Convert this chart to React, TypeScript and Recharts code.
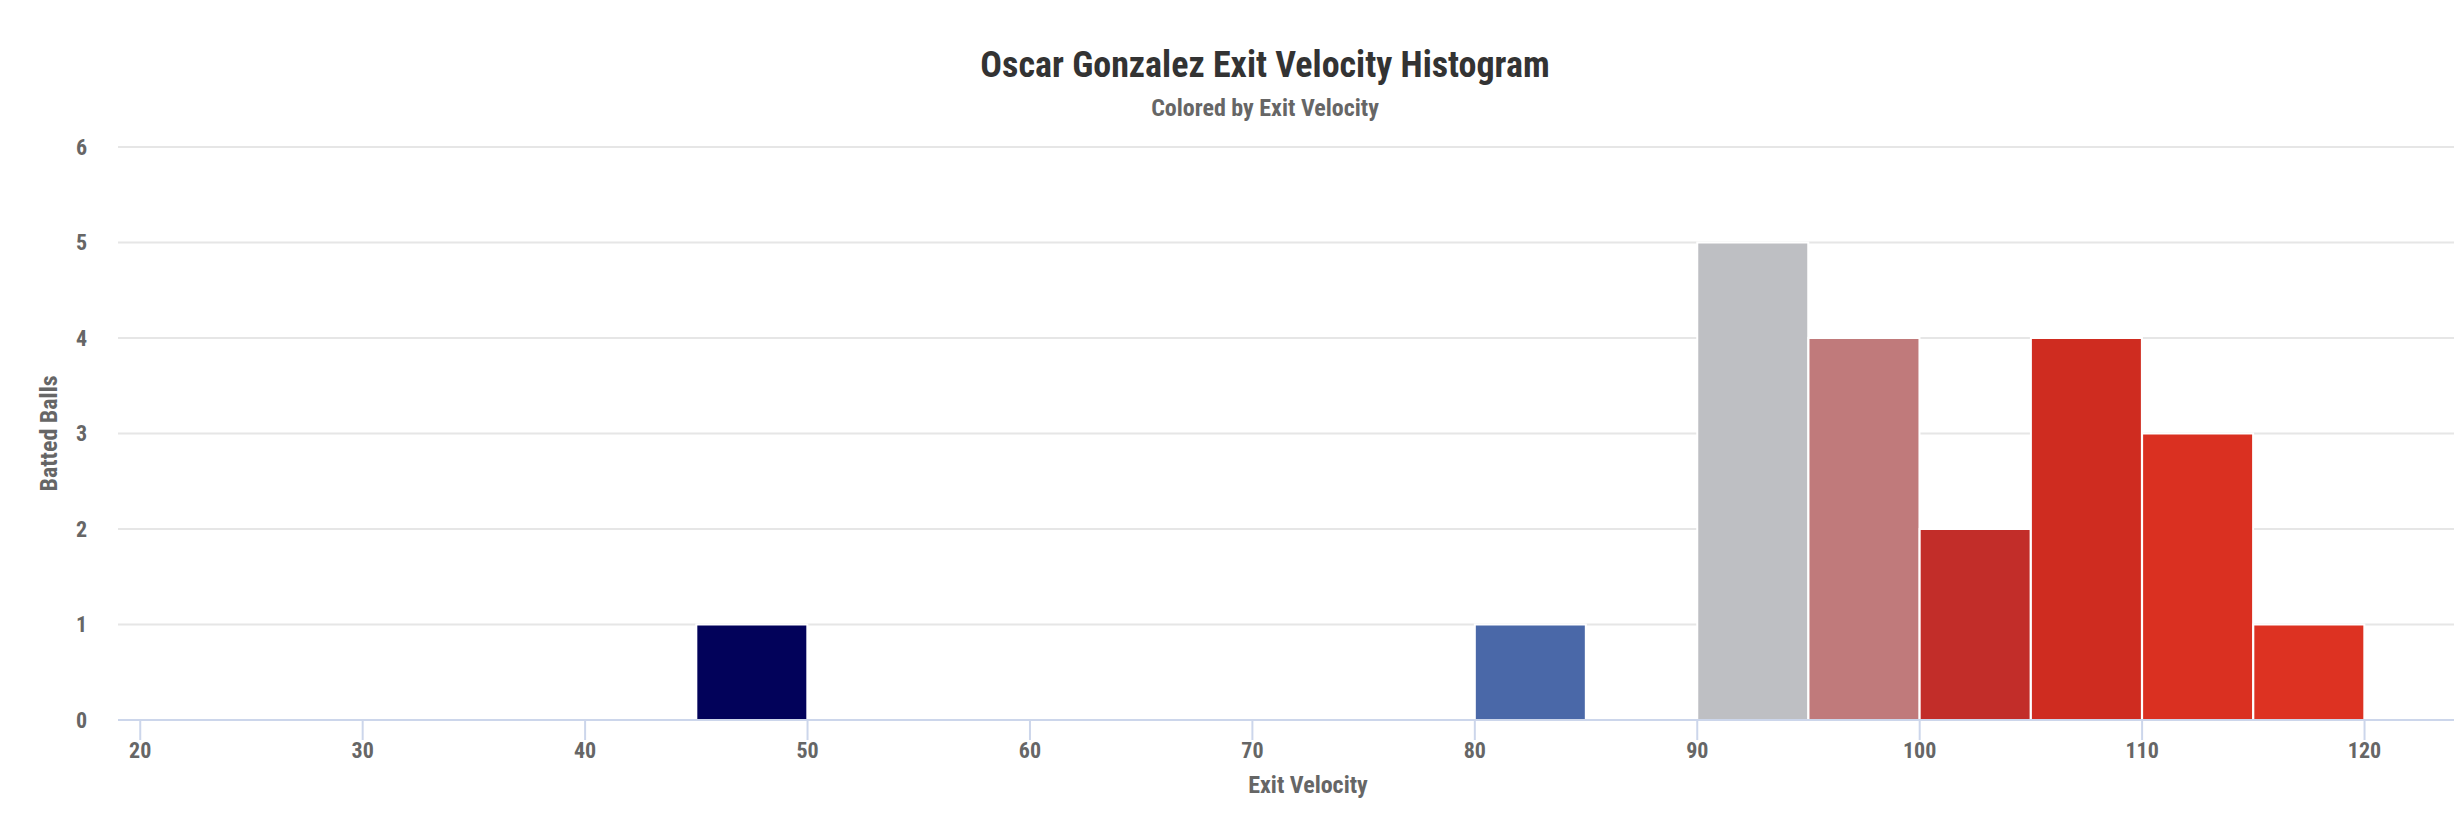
import { BarChart, Bar, XAxis, YAxis, CartesianGrid, Cell, Label } from 'recharts';

// histogram bins (lower edge, mph), only bins with batted balls
const binStarts = [45, 80, 90, 95, 100, 105, 110, 115];
const battedBalls = [1, 1, 5, 4, 2, 4, 3, 1];
const binColors = ['#02025a', '#4a68a8', '#bebfc3', '#c07a7b', '#c22d29', '#cf2c20', '#da3021', '#dd3222'];
const binWidth = 5;

const xTicks = [20, 30, 40, 50, 60, 70, 80, 90, 100, 110, 120];
const yTicks = [0, 1, 2, 3, 4, 5, 6];

const data = binStarts.map((start, i) => ({
    mid: start + binWidth / 2,
    count: battedBalls[i],
}));

const FONT = '"Roboto Condensed", "Liberation Sans Narrow", "DejaVu Sans Condensed", Roboto, sans-serif';
const tickStyle = { fill: '#666666', fontSize: 22, fontWeight: 700, fontFamily: FONT };

const YTitle = (props: any) => {
    const vb = props.viewBox || {};
    const cx = 57;
    const cy = (vb.y ?? 147) + (vb.height ?? 573) / 2;
    return (
        <text
            x={cx}
            y={cy}
            transform={`rotate(-90, ${cx}, ${cy})`}
            textAnchor="middle"
            fill="#666666"
            fontSize={24}
            fontWeight={700}
            fontFamily={FONT}
        >
            Batted Balls
        </text>
    );
};

export default function App() {
    return (
        <div style={{ position: 'absolute', left: 0, top: 0, width: 2454, height: 820, overflow: 'hidden', background: '#ffffff' }}>
            <div style={{ position: 'relative', width: 2530, height: 820 }}>
                <BarChart
                    width={2530}
                    height={820}
                    data={data}
                    margin={{ top: 147, right: 32, bottom: 0, left: 0 }}
                    barCategoryGap={0}
                >
                    <CartesianGrid vertical={false} stroke="#e6e6e6" strokeWidth={2} />
                    <XAxis
                        dataKey="mid"
                        type="number"
                        domain={[19, 126]}
                        ticks={xTicks}
                        interval={0}
                        allowDataOverflow
                        height={100}
                        tickSize={20}
                        tickMargin={2}
                        axisLine={{ stroke: '#ccd6eb', strokeWidth: 2 }}
                        tickLine={{ stroke: '#ccd6eb', strokeWidth: 2 }}
                        tick={tickStyle}
                    >
                        <Label
                            value="Exit Velocity"
                            position="insideBottom"
                            offset={27}
                            fill="#666666"
                            fontSize={24}
                            fontWeight={700}
                            fontFamily={FONT}
                        />
                    </XAxis>
                    <YAxis
                        type="number"
                        domain={[0, 6]}
                        ticks={yTicks}
                        interval={0}
                        width={118}
                        axisLine={false}
                        tickLine={false}
                        tickSize={0}
                        tickMargin={31}
                        tick={tickStyle}
                    >
                        <Label content={<YTitle />} />
                    </YAxis>
                    <Bar dataKey="count" stroke="#ffffff" strokeWidth={2} isAnimationActive={false}>
                        {data.map((_, i) => (
                            <Cell key={`bin-${i}`} fill={binColors[i]} />
                        ))}
                    </Bar>
                </BarChart>
                <div
                    style={{
                        position: 'absolute', left: 0, top: 47, width: 2530, textAlign: 'center',
                        fontFamily: FONT, fontSize: 36, fontWeight: 700, color: '#333333', lineHeight: '36px',
                    }}
                >
                    Oscar Gonzalez Exit Velocity Histogram
                </div>
                <div
                    style={{
                        position: 'absolute', left: 0, top: 96, width: 2530, textAlign: 'center',
                        fontFamily: FONT, fontSize: 24, fontWeight: 700, color: '#666666', lineHeight: '24px',
                    }}
                >
                    Colored by Exit Velocity
                </div>
            </div>
        </div>
    );
}
